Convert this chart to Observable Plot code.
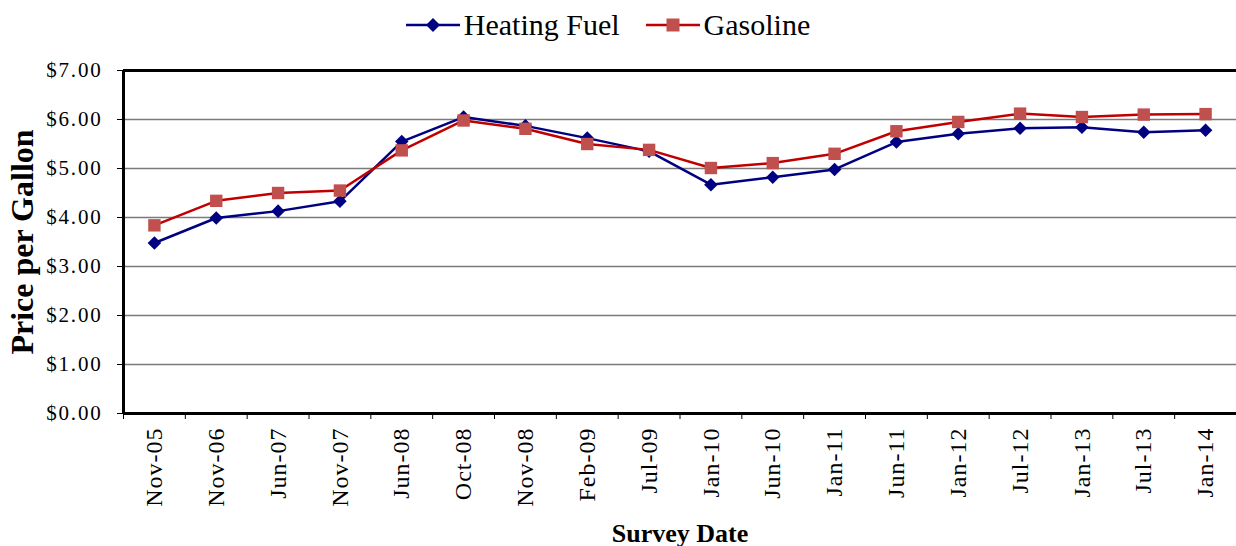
<!DOCTYPE html>
<html>
<head>
<meta charset="utf-8">
<script src="https://cdn.jsdelivr.net/npm/d3@7"></script>
<script src="https://cdn.jsdelivr.net/npm/@observablehq/plot@0.6"></script>
<style>
  body { margin: 0; background: #fff; }
  #legend { display: flex; justify-content: center; align-items: center; height: 50px; width: 1236px;
    font-family: "Liberation Serif", serif; font-size: 30px; color: #000; box-sizing: border-box; padding-right: 20px; }
  .item { display: flex; align-items: center; }
  .item + .item { margin-left: 26px; }
  .item span { margin-left: 4px; }
  .ylab text { letter-spacing: 1.8px; }
  .xlab text { letter-spacing: 1px; }
</style>
</head>
<body>
<div id="legend"></div>
<div id="chart"></div>
<script>
const dates = ["Nov-05","Nov-06","Jun-07","Nov-07","Jun-08","Oct-08","Nov-08","Feb-09","Jul-09","Jan-10","Jun-10","Jan-11","Jun-11","Jan-12","Jul-12","Jan-13","Jul-13","Jan-14"];
const heating = [3.48, 3.99, 4.13, 4.33, 5.55, 6.05, 5.87, 5.62, 5.35, 4.67, 4.82, 4.98, 5.54, 5.71, 5.82, 5.84, 5.74, 5.78];
const gasoline = [3.84, 4.34, 4.50, 4.55, 5.37, 5.98, 5.81, 5.50, 5.38, 5.01, 5.11, 5.30, 5.76, 5.95, 6.12, 6.05, 6.10, 6.11];
const yTicks = [0, 1, 2, 3, 4, 5, 6, 7];
const seriesNames = ["Heating Fuel", "Gasoline"];
const yTitle = "Price per Gallon";
const xTitle = "Survey Date";

const heatColor = "#000080";
const gasLine = "#C00000";
const gasMarker = "#C0504D";

// legend
const legend = document.getElementById("legend");
const swatches = [
  `<svg width="54" height="20"><line x1="0" x2="54" y1="10" y2="10" stroke="${heatColor}" stroke-width="2.5"/><path d="M27,3L34,10L27,17L20,10Z" fill="${heatColor}"/></svg>`,
  `<svg width="54" height="20"><line x1="0" x2="54" y1="10" y2="10" stroke="${gasLine}" stroke-width="2.5"/><rect x="20.5" y="3.5" width="13" height="13" fill="${gasMarker}"/></svg>`
];
legend.innerHTML = seriesNames.map((n, i) => `<div class="item">${swatches[i]}<span>${n}</span></div>`).join("");

const n = dates.length;
const pos = (d, i) => i + 0.5;

const chart = Plot.plot({
  width: 1236,
  height: 496,
  marginTop: 20,
  marginBottom: 133,
  marginLeft: 123,
  marginRight: 0,
  style: { fontFamily: "'Liberation Serif', serif", fontSize: "21px", color: "#000", background: "#fff", overflow: "visible" },
  x: { type: "linear", domain: [0, n] },
  y: { domain: [0, 7] },
  marks: [
    Plot.ruleY(yTicks.slice(1, -1), { stroke: "#7a7a7a", strokeWidth: 1.4 }),
    Plot.axisY({ ticks: yTicks, tickFormat: d3.format("$.2f"), tickSize: 6, tickPadding: 15, label: null, fontSize: 21, stroke: "#000", strokeOpacity: 1, className: "ylab" }),
    Plot.axisX({ ticks: d3.range(0, n + 1), tickSize: 6, tickFormat: () => "", label: null, stroke: "#000", strokeOpacity: 1 }),
    Plot.axisX({ ticks: d3.range(n).map(i => i + 0.5), tickFormat: v => dates[Math.floor(v)], tickSize: 0, tickPadding: 14, tickRotate: -90, label: null, fontSize: 24, className: "xlab" }),
    Plot.ruleY([0, 7], { stroke: "#000", strokeWidth: 3 }),
    Plot.ruleX([0], { stroke: "#000", strokeWidth: 3 }),
    Plot.line(heating, { x: pos, y: d => d, stroke: heatColor, strokeWidth: 2.5 }),
    Plot.dot(heating, { x: pos, y: d => d, symbol: "diamond2", r: 6.1, fill: heatColor, stroke: "none" }),
    Plot.line(gasoline, { x: pos, y: d => d, stroke: gasLine, strokeWidth: 2.5 }),
    Plot.dot(gasoline, { x: pos, y: d => d, symbol: "square", r: 7, fill: gasMarker, stroke: "none" }),
    Plot.text([yTitle], { frameAnchor: "left", textAnchor: "middle", rotate: -90, dx: -101, fontWeight: "bold", fontSize: 32, text: d => d }),
    Plot.text([xTitle], { frameAnchor: "bottom", textAnchor: "middle", dy: 128, fontWeight: "bold", fontSize: 26, text: d => d })
  ]
});
document.getElementById("chart").appendChild(chart);
</script>
</body>
</html>
